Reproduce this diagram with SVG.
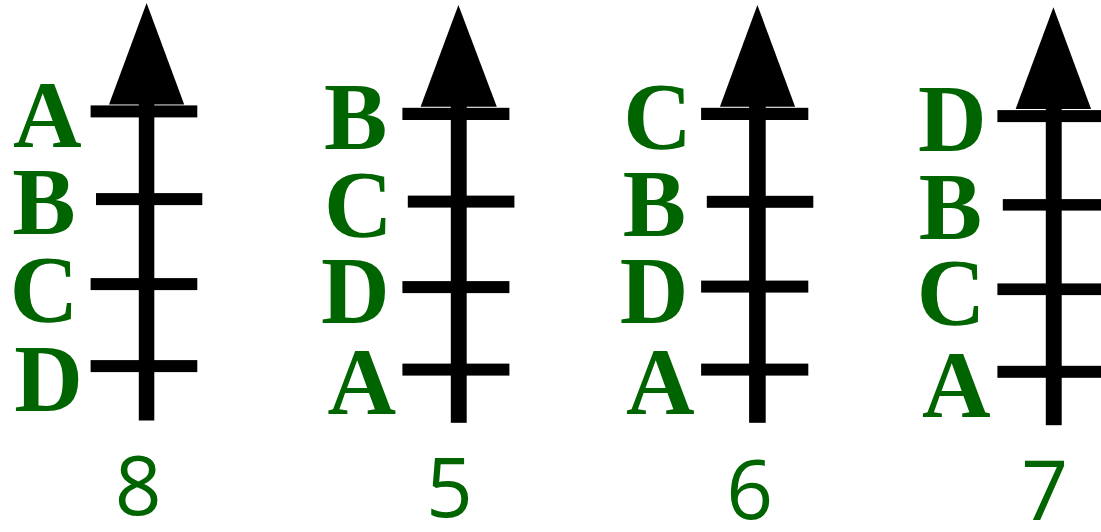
<svg xmlns="http://www.w3.org/2000/svg" width="1101" height="532" viewBox="0 0 1101 532">
<style>
.lbl{fill:#006400;text-anchor:middle}
.num{fill:#006400;text-anchor:middle}
.bar{fill:#000}
</style>
<rect width="1101" height="532" fill="#fff"/>
<g id="tower-8">
<rect class="bar" x="138.8" y="104" width="15.5" height="316.5"/>
<polygon class="bar" points="146.6,3 184.2,104.5 109,104.5"/>
<rect class="bar" x="90.6" y="105.4" width="106.7" height="12"/>
<rect class="bar" x="96" y="193.1" width="106.3" height="12"/>
<rect class="bar" x="90.6" y="278.1" width="106.7" height="12"/>
<rect class="bar" x="90.6" y="360.1" width="106.7" height="12"/>
<text class="lbl" x="47.2" y="146.5" font-family="Liberation Serif" font-weight="bold" font-size="95">A</text>
<text class="lbl" x="44" y="234" font-family="Liberation Serif" font-weight="bold" font-size="95">B</text>
<text class="lbl" x="44" y="322" font-family="Liberation Serif" font-weight="bold" font-size="95">C</text>
<text class="lbl" x="48.6" y="411" font-family="Liberation Serif" font-weight="bold" font-size="95">D</text>
<text class="num" x="138.2" y="515" font-family="Open Sans" font-size="82">8</text>
</g>
<g id="tower-5">
<rect class="bar" x="450.8" y="106" width="15.9" height="316.8"/>
<polygon class="bar" points="458.4,5 496.8,106.8 420.6,106.8"/>
<rect class="bar" x="402.4" y="107.8" width="107" height="12.2"/>
<rect class="bar" x="407.8" y="195.6" width="106.6" height="12"/>
<rect class="bar" x="402.4" y="281.1" width="107" height="12"/>
<rect class="bar" x="402.4" y="363.6" width="107" height="12"/>
<text class="lbl" x="355.6" y="149" font-family="Liberation Serif" font-weight="bold" font-size="95">B</text>
<text class="lbl" x="358.4" y="236.5" font-family="Liberation Serif" font-weight="bold" font-size="95">C</text>
<text class="lbl" x="355.4" y="323.3" font-family="Liberation Serif" font-weight="bold" font-size="95">D</text>
<text class="lbl" x="361.9" y="414.3" font-family="Liberation Serif" font-weight="bold" font-size="95">A</text>
<text class="num" x="449.4" y="517" font-family="Open Sans" font-size="82">5</text>
</g>
<g id="tower-6">
<rect class="bar" x="749.1" y="106" width="16.6" height="316.8"/>
<polygon class="bar" points="757.4,5 795.1,106.8 719.9,106.8"/>
<rect class="bar" x="701.1" y="107.8" width="107.2" height="12.2"/>
<rect class="bar" x="706.8" y="195.8" width="106.5" height="12"/>
<rect class="bar" x="701.1" y="280.6" width="107.2" height="12"/>
<rect class="bar" x="701.1" y="363.6" width="107.2" height="12"/>
<text class="lbl" x="657.6" y="148.5" font-family="Liberation Serif" font-weight="bold" font-size="95">C</text>
<text class="lbl" x="654.4" y="236" font-family="Liberation Serif" font-weight="bold" font-size="95">B</text>
<text class="lbl" x="654" y="323.3" font-family="Liberation Serif" font-weight="bold" font-size="95">D</text>
<text class="lbl" x="660.4" y="414.3" font-family="Liberation Serif" font-weight="bold" font-size="95">A</text>
<text class="num" x="749.8" y="519" font-family="Open Sans" font-size="82">6</text>
</g>
<g id="tower-7">
<rect class="bar" x="1045.8" y="108.6" width="15.9" height="316.6"/>
<polygon class="bar" points="1053.4,7.3 1091.1,109.1 1015.6,109.1"/>
<rect class="bar" x="997.4" y="110.1" width="107" height="12"/>
<rect class="bar" x="1002.8" y="199.1" width="107" height="11.5"/>
<rect class="bar" x="997.4" y="283.4" width="107" height="11.7"/>
<rect class="bar" x="997.4" y="365.8" width="107" height="12"/>
<text class="lbl" x="952.4" y="151" font-family="Liberation Serif" font-weight="bold" font-size="95">D</text>
<text class="lbl" x="950.4" y="239" font-family="Liberation Serif" font-weight="bold" font-size="95">B</text>
<text class="lbl" x="951" y="325" font-family="Liberation Serif" font-weight="bold" font-size="95">C</text>
<text class="lbl" x="956.4" y="416.7" font-family="Liberation Serif" font-weight="bold" font-size="95">A</text>
<text class="num" x="1044.8" y="520" font-family="Open Sans" font-size="82">7</text>
</g>
<g id="connectors"/>
</svg>
